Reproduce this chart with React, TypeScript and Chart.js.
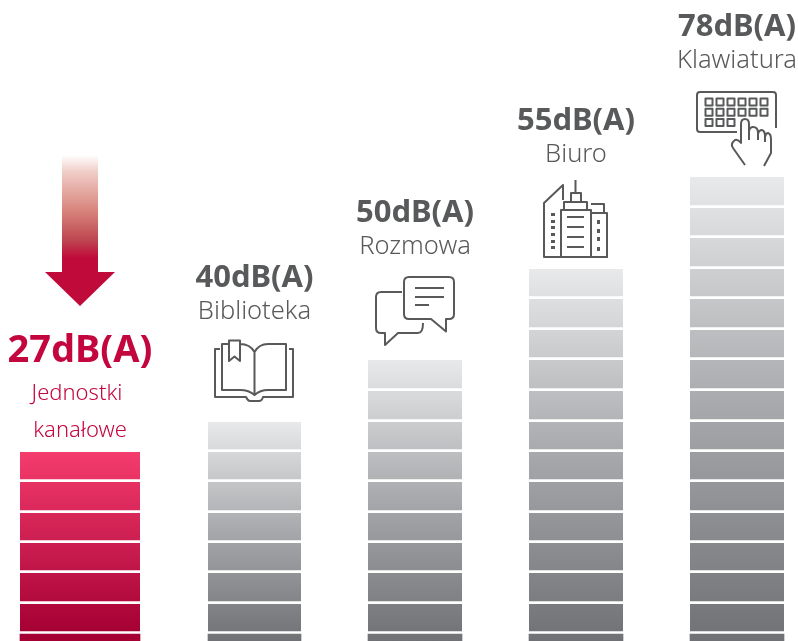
import React, { useEffect, useRef } from "react";
import { Chart, registerables } from "chart.js";

Chart.register(...registerables);

const categories = ["Jednostki kanałowe", "Biblioteka", "Rozmowa", "Biuro", "Klawiatura"];
const levels = ["27dB(A)", "40dB(A)", "50dB(A)", "55dB(A)", "78dB(A)"];
const barPositions = [80, 254.5, 415, 576, 737];
const segmentCounts = [7, 8, 10, 13, 16];
const segmentHeights = [7, 30, 31, 30, 30, 31, 30, 30, 31, 31, 30, 31, 30, 31, 30, 31];

const W = 798;
const H = 641;
const GREY = "#58595b";
const RED = "#c4063f";
const FONT = '"Noto Sans"';
const thickness = [120, 93, 94, 94, 94];
const total = (b: number) => segmentHeights.slice(0, segmentCounts[b]).reduce((a, c) => a + c, 0);

const gradientFor = (ctx: any, b: number) => {
  const { chart } = ctx;
  const y = chart.scales.y;
  const top = y ? y.getPixelForValue(total(b)) : NaN;
  const bottom = y ? y.getPixelForValue(0) : NaN;
  if (!Number.isFinite(top) || !Number.isFinite(bottom)) return b === 0 ? RED : GREY;
  const g = chart.ctx.createLinearGradient(0, top, 0, bottom);
  if (b === 0) {
    g.addColorStop(0, "#f43c6d");
    g.addColorStop(0.95, "#a50034");
    g.addColorStop(1, "#a50034");
  } else {
    g.addColorStop(0, "#e8e9ea");
    g.addColorStop(0.5, "#a7a8ab");
    g.addColorStop(1, "#707174");
  }
  return g;
};

const iconPaths = [
  "M220 349H215V397H246Q248 401 250 401H259Q262 401 263 397H293V349H289 M229 344H222V390H240Q249 390 254.5 395V352Q250 344 240 344 M254.5 352Q259 344 268 344H286V390H268Q260 390 254.5 395 M229 340.5H240V361L234.5 356.5L229 361Z",
  "M409 277H449Q454 277 454 282V314Q454 319 449 319H446V331.5L431 319H409Q404 319 404 314V282Q404 277 409 277Z M415 288H444 M415 297H444 M415 305H429 M402 292H381Q376 292 376 297V328Q376 333 381 333H385V345L398 333H418Q423 333 423 323",
  "M563 200V185L544 203V257H608 M561 210H591V257H561Z M564 210V202H587V210 M571 202V193H581V202 M575.5 193V180 M591 213H607V257 M591 204H604V213 M567 217H584 M567 227H584 M567 237H584 M567 247H584",
  "M737 132H700Q697 132 697 129V95Q697 92 700 92H773Q776 92 776 95V128 M745 165L733 148Q730 144 735 140Q738 139 741 143V124Q741 119 745 119Q749 119 749 124V140 M749 131Q750 127 753 127Q758 127 758 133V140 M758 134Q759 130 762 130Q765 131 765 136V142 M765 137Q766 133 768 133Q771 134 771 139V153L764 166",
];
const dotRects = [
  [551, 213, 4, 3], [551, 220, 4, 3], [551, 226, 4, 3], [551, 233, 4, 3], [551, 240, 4, 3], [551, 246, 4, 3],
  [597, 220, 3, 4], [597, 229, 3, 4], [597, 237, 3, 4], [597, 247, 3, 4],
];

const decorPlugin = {
  id: "decor",
  afterDatasetsDraw(chart: any) {
    const { ctx, scales } = chart;
    const cx = (b: number) => scales.x.getPixelForValue(barPositions[b]);
    ctx.save();
    ctx.textAlign = "center";
    ctx.textBaseline = "alphabetic";

    // Arrow
    const ag = ctx.createLinearGradient(0, 155, 0, 258);
    ag.addColorStop(0, "#ffffff");
    ag.addColorStop(0.17, "#f0ccc6");
    ag.addColorStop(0.56, "#d68078");
    ag.addColorStop(0.83, "#bd4550");
    ag.addColorStop(1, "#c00a3a");
    ctx.fillStyle = ag;
    const a = cx(0);
    ctx.beginPath();
    ctx.moveTo(a - 18, 155);
    ctx.lineTo(a + 18, 155);
    ctx.lineTo(a + 18, 272);
    ctx.lineTo(a + 35, 272);
    ctx.lineTo(a, 306);
    ctx.lineTo(a - 35, 272);
    ctx.lineTo(a - 18, 272);
    ctx.closePath();
    ctx.fill();

    // Text
    ctx.fillStyle = RED;
    ctx.font = `700 38px ${FONT}`;
    ctx.fillText(levels[0], cx(0), 362);
    ctx.font = `300 22px ${FONT}`;
    ctx.fillText("Jednostki", cx(0) - 3, 400);
    ctx.fillText("kanałowe", cx(0), 437);

    const baselines = [0, 287, 222, 130, 36];
    ctx.fillStyle = GREY;
    for (let b = 1; b < 5; b++) {
      ctx.font = `700 31px ${FONT}`;
      ctx.fillText(levels[b], cx(b), baselines[b]);
      ctx.font = `300 25.5px ${FONT}`;
      ctx.fillText(categories[b], cx(b), baselines[b] + 32);
    }

    // Icons
    ctx.strokeStyle = GREY;
    ctx.lineWidth = 2;
    ctx.lineJoin = "round";
    iconPaths.forEach((d) => ctx.stroke(new Path2D(d)));
    for (let r = 0; r < 3; r++) {
      const n = r === 2 ? 3 : 6;
      for (let k = 0; k < n; k++) ctx.strokeRect(705.5 + k * 11, 98.5 + r * 10.3, 7, 7);
    }
    ctx.fillStyle = GREY;
    dotRects.forEach(([x, y, w, h]) => ctx.fillRect(x, y, w, h));
    ctx.restore();
  },
};

export default function App() {
  const ref = useRef<HTMLCanvasElement>(null);
  useEffect(() => {
    const datasets: any[] = [];
    categories.forEach((label, b) => {
      for (let row = 0; row < segmentCounts[b]; row++) {
        datasets.push({
          label,
          stack: "bars",
          data: [{ x: barPositions[b], y: segmentHeights[row] }],
          barThickness: thickness[b],
          backgroundColor: (ctx: any) => gradientFor(ctx, b),
          borderColor: "#ffffff",
          borderWidth: row === 0 ? 0 : { bottom: 3 },
          borderSkipped: false,
        });
      }
    });
    const chart = new Chart(ref.current!, {
      type: "bar",
      data: { datasets },
      options: {
        responsive: false,
        animation: false,
        layout: { padding: 0 },
        plugins: { legend: { display: false }, tooltip: { enabled: false }, title: { display: false } },
        scales: {
          x: { type: "linear", stacked: true, offset: false, min: 0, max: W, display: false },
          y: { stacked: true, min: 0, max: H, display: false },
        },
      },
      plugins: [decorPlugin],
    } as any);
    return () => chart.destroy();
  }, []);
  return (
    <div style={{ position: "fixed", left: 0, top: 0, width: W, height: H, background: "#fff" }}>
      <canvas ref={ref} width={W} height={H} style={{ display: "block", width: W, height: H }} />
    </div>
  );
}
